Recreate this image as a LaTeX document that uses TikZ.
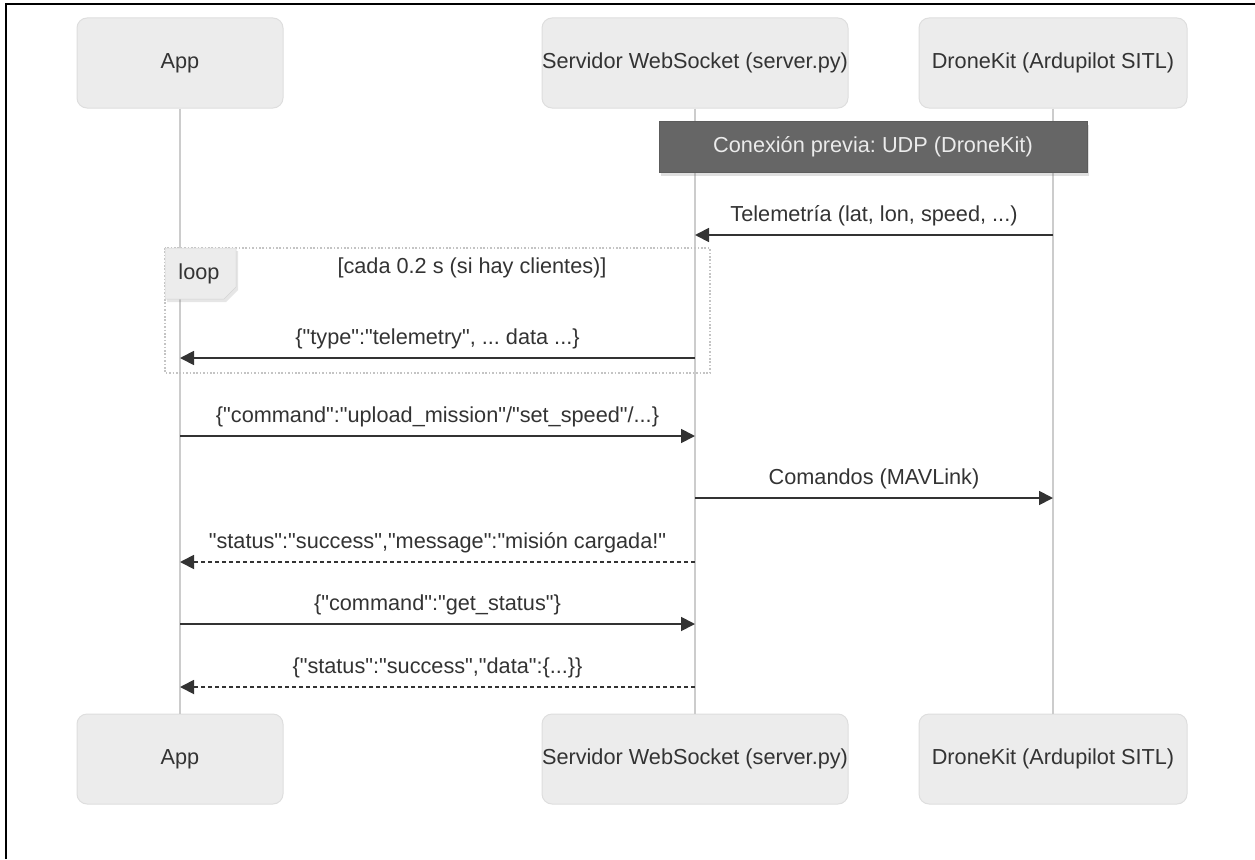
\documentclass[tikz,border=0pt]{standalone}
\usepackage{fontspec}
\setmainfont{Liberation Sans}[Ligatures=TeXOff]
\usetikzlibrary{arrows.meta,shadows}
\frenchspacing

\definecolor{actorfill}{HTML}{ECECEC}
\definecolor{actorline}{HTML}{DEDEDE}
\definecolor{lifegray}{HTML}{CCCCCC}
\definecolor{inkgray}{HTML}{333333}
\definecolor{notegray}{HTML}{666666}
\definecolor{loopgray}{HTML}{C4C4C4}

\begin{document}
\begin{tikzpicture}[x=1pt,y=-1pt,font=\fontsize{21.7}{26}\selectfont]

	\tikzstyle actor box=[draw=actorline, fill=actorfill, rounded corners=10pt, line width=1pt, minimum height=90pt, inner sep=0pt, text=inkgray];
	\tikzstyle life lines=[draw=lifegray, line width=1.6pt];
	\tikzstyle call lines=[draw=inkgray, line width=1.8pt, -{Triangle[length=14pt,width=14pt]}];
	\tikzstyle reply lines=[call lines, dash pattern=on 4pt off 3pt];
	\tikzstyle note box=[fill=notegray, draw=notegray!90!black, line width=.6pt, text=white!92!black, inner sep=0pt, drop shadow={shadow xshift=2pt, shadow yshift=-3pt, opacity=.25}];

	\useasboundingbox (0,0) rectangle (1255,859);
	\draw[line width=2.5pt] (6,859) -- (6,4) -- (1255,4);

	% actors, top and bottom
	\node[actor box, minimum width=206pt] (app) at (180,63) {App};
	\node[actor box, minimum width=306pt] (srv) at (695,63) {Servidor WebSocket (server.py)};
	\node[actor box, minimum width=268pt] (dk) at (1053,63) {DroneKit (Ardupilot SITL)};
	\node[actor box, minimum width=206pt] (appb) at (180,759) {App};
	\node[actor box, minimum width=306pt] (srvb) at (695,759) {Servidor WebSocket (server.py)};
	\node[actor box, minimum width=268pt] (dkb) at (1053,759) {DroneKit (Ardupilot SITL)};

	\foreach \a in {app,srv,dk}
		\draw[life lines] (\a) -- (\a b);

	\node[note box, minimum width=428pt, minimum height=51pt] (conn) at (873,147) {Conexión previa: UDP (DroneKit)};

	% loop frame
	\draw[draw=loopgray, line width=1.6pt, dash pattern=on 1.6pt off 1.8pt] (165,248) rectangle (710,373);
	\filldraw[fill=actorfill, draw=actorfill!90!black, line width=.5pt, drop shadow={shadow xshift=2pt, shadow yshift=-3pt, opacity=.2}]
		(165,248) -- (236,248) -- (236,287) -- (224,299) -- (165,299) -- cycle;
	\node[text=inkgray] (looplbl) at (199,274) {loop};
	\node[text=inkgray] (guard) at (472,268) {[cada 0.2 s (si hay clientes)]};

	% messages
	\foreach \y/\from/\to/\kind/\txt in {
		235/dk/srv/call/{Telemetría (lat, lon, speed, ...)},
		358/srv/app/call/{\{"type":"telemetry", ... data ...\}},
		436/app/srv/call/{\{"command":"upload\_mission"/"set\_speed"/...\}},
		498/srv/dk/call/{Comandos (MAVLink)},
		562/srv/app/reply/{"status":"success","message":"misión cargada!"},
		624/app/srv/call/{\{"command":"get\_status"\}},
		687/srv/app/reply/{\{"status":"success","data":\{...\}\}}}
		\draw[\kind\space lines] (\from |- 0,\y) -- (\to |- 0,\y)
			node[pos=.5, anchor=base, yshift=14pt, text=inkgray, inner sep=0pt] {\txt};

\end{tikzpicture}
\end{document}
